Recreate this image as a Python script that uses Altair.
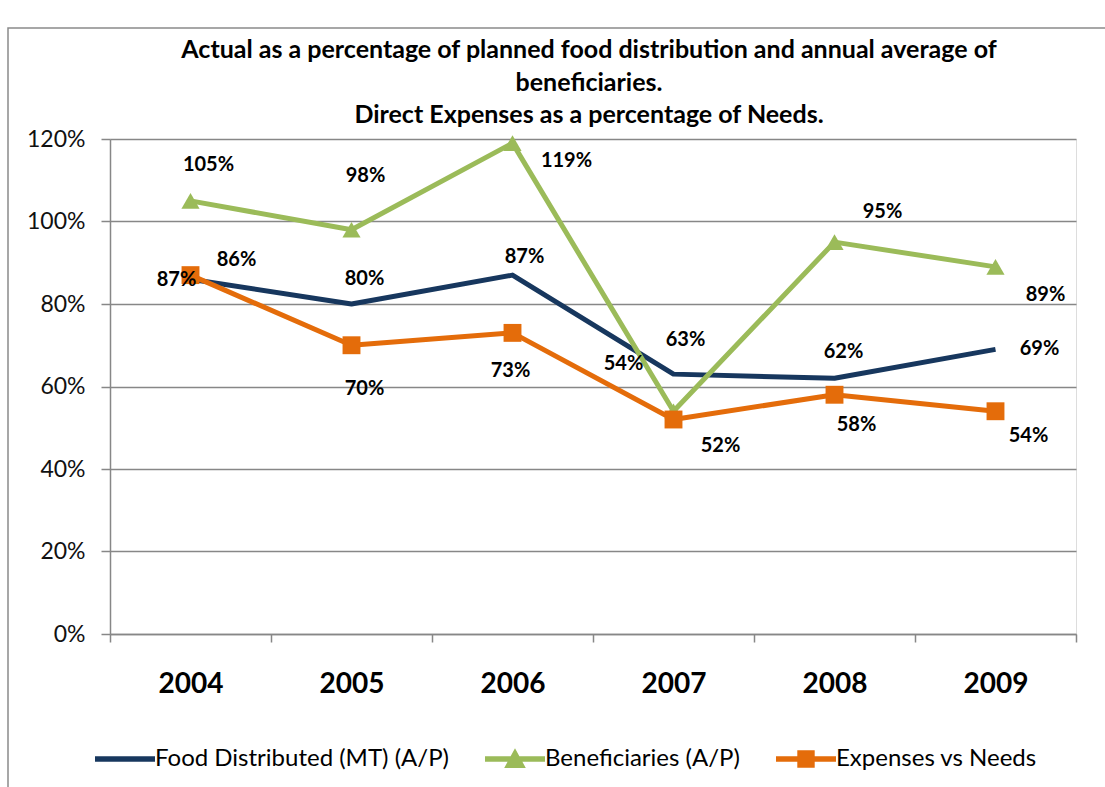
import altair as alt
import pandas as pd

years = ["2004", "2005", "2006", "2007", "2008", "2009"]
food = [86, 80, 87, 63, 62, 69]
benef = [105, 98, 119, 54, 95, 89]
expenses = [87, 70, 73, 52, 58, 54]
series_names = ["Food Distributed (MT) (A/P)", "Beneficiaries (A/P)", "Expenses vs Needs"]
colors = ["#17375E", "#9BBB59", "#E46C0A"]
y_ticks = [0, 0.2, 0.4, 0.6, 0.8, 1.0, 1.2]
title_lines = [
    "Actual as a percentage of planned food distribution and annual average of",
    "beneficiaries.",
    "Direct Expenses as a percentage of Needs.",
]

# data-label placement (pixel offsets), per series and year
label_dx = [[46, 13, 12, 12, 9, 44], [18, 14, 54, -50, 48, 50], [-14, 13, -2, 47, 22, 33]]
label_dy = [[-19, -25, -18, -34, -26, 0], [-36, -54, 18, -47, -30, 28], [5, 44, 38, 26, 30, 25]]

rows = []
for s, vals in zip(series_names, [food, benef, expenses]):
    for y, v in zip(years, vals):
        rows.append({"year": y, "series": s, "value": v / 100.0, "label": f"{v}%"})
df = pd.DataFrame(rows)

FONT = "Lato"
W, H = 966, 495
GRAY = "#878787"

x_enc = alt.X(
    "year:N",
    sort=years,
    bandPosition=0.5,
    scale=alt.Scale(type="band", paddingInner=0, paddingOuter=0),
    axis=alt.Axis(
        title=None, labelAngle=0, labelFontSize=28, labelFontWeight="bold",
        labelColor="#000000", labelPadding=28, tickBand="extent", tickSize=8,
        tickColor=GRAY, domainColor=GRAY, domainWidth=1.5, tickWidth=1.5,
        grid=False, labelFont=FONT,
    ),
)
y_enc = alt.Y(
    "value:Q",
    scale=alt.Scale(domain=[0, 1.2], nice=False),
    axis=alt.Axis(
        title=None, values=y_ticks, format=".0%", labelFontSize=23,
        labelColor="#111111", labelPadding=16, tickSize=9, tickColor=GRAY,
        domainColor=GRAY, domainWidth=1.5, tickWidth=1.5, gridColor=GRAY,
        gridWidth=1.5, labelFont=FONT,
    ),
)

base = alt.Chart(df)
one = alt.Chart(pd.DataFrame({"a": [0]}))

border = one.mark_rect(
    fill=None, stroke="#8a8a8a", strokeWidth=1.5, clip=False
).encode(
    x=alt.value(-102), x2=alt.value(1010), y=alt.value(-111), y2=alt.value(700)
)

title = one.mark_text(
    fontSize=25, fontWeight="bold", font=FONT, color="#000000",
    lineHeight=32.5, align="center", baseline="middle",
).encode(x=alt.value(W / 2 - 4), y=alt.value(-89), text=alt.value(title_lines))

lines = [
    base.transform_filter(alt.datum.series == s).mark_line(
        strokeWidth=5, strokeJoin="round", color=c
    ).encode(x=x_enc, y=y_enc)
    for s, c in zip(series_names, colors)
]

tri = base.transform_filter(alt.datum.series == series_names[1]).mark_point(
    shape="triangle-up", filled=True, size=330, opacity=1, color=colors[1]
).encode(x=x_enc, y=y_enc)

sq = base.transform_filter(alt.datum.series == series_names[2]).mark_point(
    shape="square", filled=True, size=320, opacity=1, color=colors[2]
).encode(x=x_enc, y=y_enc)

legend_paths = [
    "M-1,-0.09H1V0.09H-1Z",
    "M-1,-0.09H1V0.09H-1Z M0,-0.36L0.36,0.3H-0.36Z",
    "M-1,-0.09H1V0.09H-1Z M-0.29,-0.29H0.29V0.29H-0.29Z",
]
leg = alt.Legend(
    title=None, orient="none", legendX=-15, legendY=590, direction="horizontal",
    symbolSize=3600, symbolStrokeWidth=0, symbolOpacity=1, labelFontSize=24,
    labelFont=FONT, labelColor="#000000", labelOffset=0, columnPadding=36,
    labelLimit=500,
)
legend_layer = base.mark_point(filled=True, opacity=0).encode(
    x=x_enc, y=y_enc,
    color=alt.Color("series:N", sort=series_names,
                    scale=alt.Scale(domain=series_names, range=colors), legend=leg),
    shape=alt.Shape("series:N", sort=series_names,
                    scale=alt.Scale(domain=series_names, range=legend_paths), legend=leg),
)

texts = []
for si, s in enumerate(series_names):
    for yi, yr in enumerate(years):
        t = base.transform_filter(
            (alt.datum.series == s) & (alt.datum.year == yr)
        ).mark_text(
            dx=label_dx[si][yi], dy=label_dy[si][yi], fontSize=20, fontWeight="bold",
            font=FONT, color="#000000",
        ).encode(x=x_enc, y=y_enc, text="label:N")
        texts.append(t)

chart = alt.layer(border, title, *lines, tri, sq, legend_layer, *texts).properties(
    width=W, height=H,
    autosize=alt.AutoSizeParams(type="none"),
    padding={"left": 110, "top": 139, "right": 29, "bottom": 153},
).configure_view(stroke=None).configure(background="white")

chart.save("out.html", embed_options={"renderer": "svg", "actions": False})
